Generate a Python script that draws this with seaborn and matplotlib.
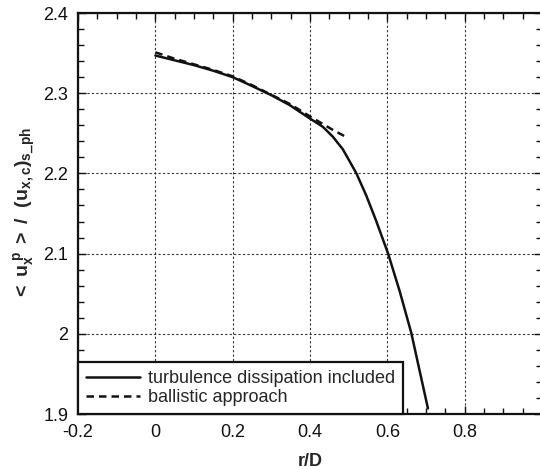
import numpy as np
import pandas as pd
import matplotlib
matplotlib.use("Agg")
import matplotlib.pyplot as plt
import seaborn as sns
from matplotlib.ticker import MultipleLocator

# ---- data ----
r_turb = [0.0, 0.05, 0.10, 0.15, 0.20, 0.25, 0.30, 0.347, 0.399, 0.433, 0.459,
          0.485, 0.502, 0.520, 0.545, 0.571, 0.602, 0.632, 0.662, 0.683, 0.705]
u_turb = [2.347, 2.341, 2.335, 2.328, 2.320, 2.309, 2.2975, 2.2853, 2.2687, 2.2582, 2.2458,
          2.230, 2.2155, 2.200, 2.173, 2.141, 2.100, 2.053, 2.001, 1.955, 1.907]
r_ball = [0.0, 0.05, 0.10, 0.15, 0.20, 0.25, 0.30, 0.35, 0.40, 0.43, 0.46, 0.495]
u_ball = [2.351, 2.343, 2.336, 2.329, 2.321, 2.310, 2.298, 2.286, 2.271, 2.2625, 2.254, 2.245]
label_turb = "turbulence dissipation included"
label_ball = "ballistic approach"
xticks = [-0.2, 0, 0.2, 0.4, 0.6, 0.8]
xticklabels = ["-0.2", "0", "0.2", "0.4", "0.6", "0.8"]
yticks = [1.9, 2.0, 2.1, 2.2, 2.3, 2.4]
yticklabels = ["1.9", "2", "2.1", "2.2", "2.3", "2.4"]

df = pd.concat([
    pd.DataFrame({"r": r_turb, "u": u_turb, "model": label_turb}),
    pd.DataFrame({"r": r_ball, "u": u_ball, "model": label_ball}),
])

sns.set_style("ticks")
plt.rcParams["font.family"] = ["Liberation Sans", "DejaVu Sans"]
plt.rcParams["mathtext.fontset"] = "custom"
plt.rcParams["mathtext.rm"] = "Liberation Sans"
plt.rcParams["mathtext.it"] = "Liberation Sans"
plt.rcParams["mathtext.bf"] = "Liberation Sans:bold"

fig = plt.figure(figsize=(5.4, 4.69), dpi=100)
ax = fig.add_axes([78 / 540, 1 - 414 / 469, (542 - 78) / 540, (414 - 13) / 469])

sns.lineplot(data=df, x="r", y="u", hue="model", style="model",
             palette={label_turb: "#111111", label_ball: "#111111"},
             dashes={label_turb: "", label_ball: (3, 2)},
             linewidth=1.8, ax=ax, sort=False, estimator=None)

ax.set_xlim(-0.2, 1.0)
ax.set_ylim(1.9, 2.4)
ax.set_xticks(xticks)
ax.set_xticklabels(xticklabels)
ax.set_yticks(yticks)
ax.set_yticklabels(yticklabels)
ax.xaxis.set_minor_locator(MultipleLocator(0.05))
ax.yaxis.set_minor_locator(MultipleLocator(0.02))
ax.tick_params(which="both", direction="in", top=True, right=True,
               labelsize=13, colors="#111111", pad=7)
ax.tick_params(which="major", length=6, width=1)
ax.tick_params(which="minor", length=4, width=1)
ax.grid(True, which="major", color="#333333", linestyle=(0, (2, 2)), linewidth=0.8)
for s in ax.spines.values():
    s.set_linewidth(1.6)
    s.set_color("#111111")

ax.set_xlabel("r/D", fontsize=13, fontweight="bold", labelpad=9)
ax.set_ylabel(r"$\mathbf{<\ u_x^{\ p}\ >\ /\ \ (u_{x,c})_{s\_ph}}$", fontsize=14, labelpad=4)

leg = ax.legend(loc="lower left", borderaxespad=0, frameon=True, fancybox=False,
                fontsize=13, handlelength=3.0, handletextpad=0.4,
                borderpad=0.45, labelspacing=0.1, edgecolor="#111111")
leg.get_frame().set_linewidth(1.6)
leg.get_frame().set_alpha(1)
leg.set_title(None)

fig.savefig("out.png", dpi=100)
